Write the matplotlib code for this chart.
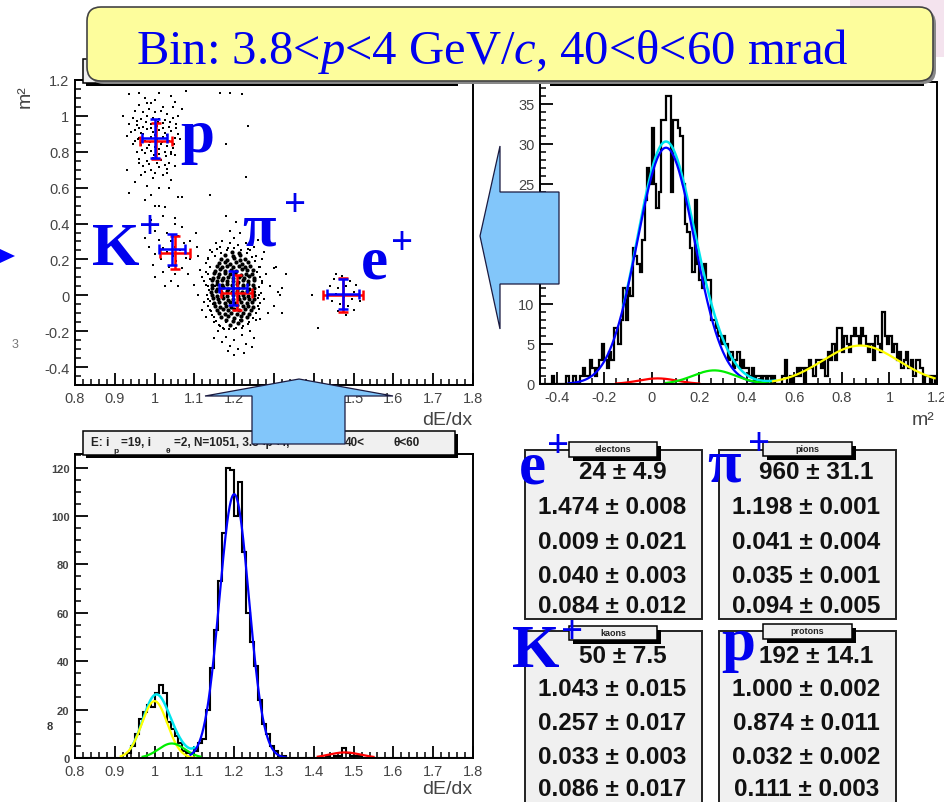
import numpy as np
import matplotlib
matplotlib.use('Agg')
import matplotlib.pyplot as plt
from matplotlib.patches import Polygon, FancyBboxPatch, Rectangle
from matplotlib.ticker import MultipleLocator, FuncFormatter

W, H = 944, 803
plt.rcParams['font.family'] = ['Liberation Sans', 'DejaVu Sans']
plt.rcParams['mathtext.fontset'] = 'custom'
plt.rcParams['mathtext.rm'] = 'Liberation Serif'
plt.rcParams['mathtext.it'] = 'Liberation Serif:italic'
plt.rcParams['mathtext.bf'] = 'Liberation Serif:bold'

# ------------------------------------------------------------------ data
title_text = "Bin: 3.8<$p$<4 GeV/$c$, 40<θ<60 mrad"
species_names = ['electons', 'pions', 'kaons', 'protons']

# fit results table (e, pi, K, p)
yields = [24, 960, 50, 192]
yields_err = [4.9, 31.1, 7.5, 14.1]
dedx_mean = [1.474, 1.198, 1.043, 1.000]
dedx_mean_err = [0.008, 0.001, 0.015, 0.002]
m2_mean = [0.009, 0.041, 0.257, 0.874]
m2_mean_err = [0.021, 0.004, 0.017, 0.011]
dedx_sigma = [0.040, 0.035, 0.033, 0.032]
dedx_sigma_err = [0.003, 0.001, 0.003, 0.002]
m2_sigma = [0.084, 0.094, 0.086, 0.111]
m2_sigma_err = [0.012, 0.005, 0.017, 0.003]

# second (red) set of cluster crosses
red_x = [1.474, 1.206, 1.051, 1.003]
red_y = [0.0, 0.015, 0.238, 0.858]
red_xerr = [0.050, 0.038, 0.037, 0.040]
red_yerr = [0.095, 0.097, 0.094, 0.100]

# scatter points (dE/dx, m^2)
proton_x = [0.935, 0.975, 1.01, 1.04, 0.96, 0.99, 1.02, 1.05, 1.07, 0.95,
            0.97, 0.985, 1.0, 1.015, 1.03, 1.06, 0.945, 0.965, 0.98, 0.995,
            1.01, 1.025, 1.045, 0.935, 0.955, 0.97, 0.99, 1.005, 1.02, 1.035,
            1.055, 0.95, 0.965, 0.98, 0.995, 1.01, 1.025, 1.04, 1.06, 0.93,
            0.96, 0.975, 0.99, 1.005, 1.02, 1.035, 1.05, 0.945, 0.965, 0.985,
            1.0, 1.015, 1.03, 1.045, 0.955, 0.975, 0.99, 1.01, 1.025, 1.04,
            0.96, 0.98, 0.995, 1.015, 1.035, 0.97, 0.99, 1.01, 1.03, 1.05,
            0.965, 0.995, 1.02, 1.04, 0.95, 0.98, 1.01, 1.035, 0.935, 0.99,
            1.06, 0.975, 1.0, 1.025,
            0.962, 0.978, 0.992, 1.008, 1.022, 1.038, 0.958, 0.972, 0.988, 1.002,
            1.018, 1.032, 1.048, 0.968, 0.982, 0.998, 1.012, 1.028, 1.042, 0.95,
            0.94, 1.055, 1.065, 0.985, 1.005, 1.025, 0.975, 1.0, 0.955, 1.045,
            0.98, 1.0, 0.96, 1.03, 0.96, 1.052]
proton_y = [1.12, 1.10, 1.13, 1.11, 1.06, 1.07, 1.05, 1.08, 1.04, 1.03,
            1.02, 1.04, 1.02, 1.03, 1.01, 1.0, 0.99, 0.98, 1.0, 0.99,
            0.985, 0.975, 0.99, 0.955, 0.95, 0.94, 0.955, 0.945, 0.96, 0.94,
            0.955, 0.92, 0.905, 0.925, 0.91, 0.92, 0.905, 0.915, 0.9, 0.89,
            0.875, 0.86, 0.88, 0.865, 0.88, 0.86, 0.875, 0.845, 0.835, 0.84,
            0.825, 0.845, 0.83, 0.82, 0.80, 0.795, 0.805, 0.79, 0.8, 0.785,
            0.76, 0.75, 0.765, 0.755, 0.74, 0.72, 0.70, 0.715, 0.705, 0.72,
            0.67, 0.655, 0.67, 0.64, 0.63, 0.61, 0.6, 0.6, 0.57, 0.56,
            0.55, 0.53, 0.50, 0.49,
            0.93, 0.965, 0.935, 0.965, 0.935, 0.965, 0.87, 0.9, 0.855, 0.895,
            0.855, 0.895, 0.845, 0.81, 0.82, 0.78, 0.815, 0.775, 0.8, 0.86,
            0.91, 0.93, 0.87, 0.73, 0.74, 0.725, 0.685, 0.68, 0.97, 1.05,
            1.07, 1.09, 1.13, 0.68, 0.74, 0.78]
kaon_x = [0.99, 1.02, 1.05, 1.07, 1.0, 1.03, 1.06, 1.01, 1.04, 1.075,
          0.985, 1.02, 1.05, 1.065, 1.03, 1.0, 1.045, 1.08, 1.015, 1.055,
          0.995, 1.035, 1.07, 1.02, 1.05, 1.0, 1.04, 1.06, 1.09, 1.11,
          0.975, 1.085, 1.025]
kaon_y = [0.42, 0.44, 0.40, 0.38, 0.36, 0.35, 0.33, 0.31, 0.30, 0.29,
          0.27, 0.265, 0.27, 0.25, 0.24, 0.23, 0.22, 0.21, 0.20, 0.19,
          0.17, 0.16, 0.15, 0.13, 0.12, 0.10, 0.08, 0.05, 0.30, 0.22,
          0.32, 0.12, 0.05]
electron_x = [1.45, 1.47, 1.49, 1.505, 1.44, 1.46, 1.48, 1.5, 1.455, 1.475,
              1.495, 1.445, 1.465, 1.485, 1.46, 1.48, 1.5, 1.515, 1.435, 1.455]
electron_y = [0.09, 0.11, 0.08, 0.06, 0.05, 0.04, 0.05, 0.02, 0.01, -0.01,
              -0.02, -0.03, -0.05, -0.06, -0.09, -0.11, -0.08, -0.03, 0.0, 0.12]
pion_halo_x = [1.17, 1.2, 1.23, 1.19, 1.205, 1.18, 1.165, 1.25, 1.14, 1.26, 1.215, 1.235, 1.155, 1.185,
               1.13, 1.12, 1.135, 1.11, 1.125, 1.14, 1.13, 1.115, 1.1, 1.135, 1.13, 1.125, 1.135, 1.12, 1.145,
               1.27, 1.28, 1.29, 1.275, 1.3, 1.285, 1.31, 1.265, 1.32, 1.265, 1.3, 1.27, 1.262, 1.26, 1.255, 1.275,
               1.16, 1.18, 1.2, 1.22, 1.24, 1.19, 1.21, 1.17, 1.23, 1.2, 1.225, 1.15, 1.25, 1.185, 1.245, 1.165,
               1.235, 1.255, 1.15, 1.2, 1.22, 1.175]
pion_halo_y = [0.30, 0.32, 0.29, 0.36, 0.41, 0.44, 0.27, 0.27, 0.25, 0.31, 0.345, 0.26, 0.29, 0.265,
               0.18, 0.1, 0.05, 0.0, -0.04, -0.08, -0.12, 0.14, 0.06, 0.21, 0.13, 0.08, -0.02, -0.08, -0.11,
               0.2, 0.12, 0.05, -0.02, -0.06, -0.1, 0.02, 0.16, 0.04, -0.13, 0.15, 0.08, 0.0, -0.06, 0.22, 0.24,
               -0.2, -0.23, -0.25, -0.22, -0.2, -0.28, -0.3, -0.26, -0.27, -0.33, -0.32, -0.24, -0.24, -0.31, -0.29, -0.17,
               -0.16, -0.14, -0.15, -0.19, -0.18, -0.19]
pion_mid_x = [1.135, 1.14, 1.133, 1.138, 1.128, 1.136, 1.131, 1.139, 1.134, 1.142, 1.148, 1.155,
              1.163, 1.172, 1.186, 1.205, 1.222, 1.238, 1.247, 1.256, 1.262, 1.266, 1.261, 1.268,
              1.263, 1.27, 1.264, 1.258, 1.262, 1.252, 1.244, 1.232, 1.218, 1.2, 1.183, 1.166,
              1.152, 1.145, 1.158, 1.21, 1.19, 1.24, 1.152, 1.235, 1.18, 1.215, 1.147, 1.253]
pion_mid_y = [0.20, 0.16, 0.12, 0.09, 0.06, 0.03, 0.0, -0.03, -0.06, -0.09, -0.12, -0.145,
              -0.165, -0.18, -0.19, -0.185, -0.17, -0.15, -0.125, -0.1, -0.075, -0.045, -0.015, 0.015,
              0.045, 0.07, 0.1, 0.13, 0.16, 0.19, 0.215, 0.235, 0.255, 0.265, 0.25, 0.235,
              0.22, 0.24, 0.26, 0.28, 0.29, 0.25, 0.05, 0.11, -0.15, -0.14, -0.05, 0.02]
pion_core_x = [1.195, 1.212,
               1.178, 1.196, 1.214,
               1.168, 1.183, 1.199, 1.214, 1.228,
               1.162, 1.176, 1.19, 1.205, 1.219, 1.235,
               1.156, 1.169, 1.183, 1.197, 1.211, 1.226, 1.24,
               1.152, 1.165, 1.178, 1.192, 1.205, 1.219, 1.233, 1.247,
               1.149, 1.163, 1.176, 1.19, 1.203, 1.216, 1.23, 1.245,
               1.146, 1.159, 1.172, 1.185, 1.198, 1.211, 1.224, 1.237, 1.251,
               1.144, 1.157, 1.17, 1.183, 1.196, 1.209, 1.222, 1.235, 1.249,
               1.143, 1.156, 1.169, 1.182, 1.195, 1.208, 1.221, 1.234, 1.248,
               1.145, 1.158, 1.171, 1.184, 1.197, 1.21, 1.223, 1.236, 1.25,
               1.142, 1.155, 1.168, 1.181, 1.194, 1.207, 1.22, 1.233, 1.247,
               1.144, 1.157, 1.17, 1.183, 1.196, 1.209, 1.222, 1.235, 1.249,
               1.146, 1.159, 1.172, 1.185, 1.198, 1.211, 1.224, 1.237, 1.25,
               1.149, 1.162, 1.176, 1.19, 1.203, 1.217, 1.231, 1.245,
               1.151, 1.165, 1.179, 1.193, 1.207, 1.221, 1.235, 1.248,
               1.157, 1.171, 1.185, 1.199, 1.213, 1.227, 1.241,
               1.162, 1.177, 1.192, 1.207, 1.222, 1.236,
               1.168, 1.184, 1.2, 1.216, 1.231,
               1.18, 1.198, 1.216,
               1.19, 1.21]
pion_core_y = [0.243, 0.236,
               0.224, 0.218, 0.226,
               0.203, 0.197, 0.206, 0.198, 0.204,
               0.178, 0.186, 0.176, 0.184, 0.177, 0.183,
               0.163, 0.156, 0.165, 0.158, 0.164, 0.155, 0.162,
               0.138, 0.145, 0.137, 0.143, 0.136, 0.144, 0.139, 0.142,
               0.123, 0.116, 0.124, 0.117, 0.122, 0.115, 0.121, 0.118,
               0.098, 0.104, 0.097, 0.103, 0.096, 0.102, 0.099, 0.105, 0.097,
               0.083, 0.077, 0.084, 0.078, 0.082, 0.076, 0.083, 0.079, 0.084,
               0.057, 0.063, 0.058, 0.064, 0.056, 0.062, 0.057, 0.063, 0.058,
               0.043, 0.037, 0.044, 0.036, 0.042, 0.038, 0.045, 0.037, 0.041,
               0.018, 0.024, 0.017, 0.023, 0.016, 0.022, 0.018, 0.024, 0.017,
               0.003, -0.004, 0.002, -0.003, 0.004, -0.002, 0.003, -0.004, 0.002,
               -0.017, -0.023, -0.016, -0.024, -0.018, -0.022, -0.016, -0.023, -0.019,
               -0.043, -0.036, -0.042, -0.037, -0.044, -0.038, -0.043, -0.037,
               -0.057, -0.063, -0.058, -0.064, -0.056, -0.062, -0.058, -0.063,
               -0.083, -0.077, -0.084, -0.078, -0.083, -0.077, -0.082,
               -0.097, -0.103, -0.098, -0.104, -0.097, -0.102,
               -0.123, -0.117, -0.124, -0.118, -0.122,
               -0.138, -0.144, -0.137,
               -0.163, -0.157]
misc_x = [1.235, 1.18, 1.23, 1.14, 1.07, 1.19, 1.22, 1.165, 1.08, 1.05, 1.01,
          1.106, 1.09, 1.304, 1.316, 1.32, 1.395, 1.411, 1.105, 1.33, 0.92, 0.93]
misc_y = [0.944, 0.844, 0.66, 0.56, 0.55, 1.13, 1.12, 1.13, 1.14, 0.43, 0.50,
          0.27, 0.2, 0.16, 0.0, -0.1, 0.0, -0.18, 0.35, 0.12, 1.0, 0.7]

# m^2 projection histogram: bins of 0.01 starting at -0.47
m2_lo, m2_bw = -0.47, 0.01
m2_counts = [0, 0, 0, 0, 0, 1, 0,
             0, 0, 0, 0, 1, 0, 0, 1, 0, 0,
             1, 2, 1, 1, 3, 2, 1, 2, 3, 5,
             3, 2, 4, 3, 7, 7, 5, 8, 12, 8,
             12, 11, 17, 16, 15, 14, 18, 23, 27, 25,
             32, 25, 22, 24, 33, 33, 36, 36, 24, 33,
             33, 32, 31, 25, 20, 19, 17, 14, 23, 15,
             13, 12, 15, 13, 13, 8, 8, 7, 6, 5,
             6, 5, 3, 4, 2, 3, 4, 2, 3, 2,
             2, 1, 2, 0, 1, 1, 0, 1, 0, 1,
             0, 1, 0, 0, 0, 1, 3, 0, 1, 0,
             1, 2, 1, 2, 0, 2, 3, 2, 1, 3,
             3, 2, 3, 1, 4, 3, 5, 3, 7, 7,
             4, 6, 5, 4, 6, 7, 6, 5, 7, 6,
             5, 4, 5, 3, 6, 5, 4, 9, 6, 5,
             6, 4, 5, 3, 4, 2, 3, 4, 2, 3,
             1, 3, 3, 2, 0, 1, 1, 0, 1, 0]
# Gaussian fit components on m^2 (e, pi, K, p)
m2fit_amp = [0.7, 29.5, 1.7, 4.8]
m2fit_mean = [0.025, 0.06, 0.263, 0.878]
m2fit_sigma = [0.08, 0.12, 0.09, 0.16]
m2fit_lo = [-0.15, -0.35, 0.06, 0.51]
m2fit_hi = [0.20, 0.43, 0.50, 1.19]
m2total_range = [-0.12, 0.52]

# dE/dx projection histogram: bins of 0.01 from 0.8
dedx_lo, dedx_bw = 0.8, 0.01
dedx_counts = [0, 0, 0, 0, 0, 0, 0, 0, 0, 0,
               0, 0, 0, 2, 5, 10, 16, 19, 22, 21,
               27, 30, 27, 15, 12, 9, 6, 3, 2, 2,
               3, 6, 8, 20, 37, 53, 73, 93, 120, 119,
               100, 114, 85, 60, 48, 38, 24, 14, 10, 5,
               3, 1, 1, 0, 0, 0, 0, 0, 0, 0,
               0, 0, 0, 1, 0, 1, 1, 4, 2, 1,
               1, 1, 0, 0, 0, 0, 0, 0, 0, 0,
               0, 0, 0, 0, 0, 0, 0, 0, 0, 0,
               0, 0, 0, 0, 0, 0, 0, 0, 0, 0]
dedxfit_amp = [2.3, 109.0, 6.0, 23.5]
dedxfit_mean = [1.478, 1.200, 1.043, 1.000]
dedxfit_sigma = [0.040, 0.037, 0.033, 0.032]
dedxfit_lo = [1.41, 1.09, 0.97, 0.915]
dedxfit_hi = [1.55, 1.33, 1.115, 1.10]
dedxtotal_range = [0.94, 1.10]

fit_colors = ['#ff0000', '#0000ff', '#00ee00', '#ffff00']
BLUE = '#0000ee'

# ------------------------------------------------------------------ figure
fig = plt.figure(figsize=(W / 100, H / 100), dpi=100)


def px_axes(x0, y0, x1, y1):
    return fig.add_axes([x0 / W, 1 - y1 / H, (x1 - x0) / W, (y1 - y0) / H])


fmt = FuncFormatter(lambda v, p: ('%g' % round(v, 6)))


def root_style(ax, xmaj, xmin, ymaj, ymin, ylabsize=10.5, ybold=False):
    for s in ax.spines.values():
        s.set_linewidth(1.4)
    ax.xaxis.set_major_locator(MultipleLocator(xmaj))
    ax.xaxis.set_minor_locator(MultipleLocator(xmin))
    ax.yaxis.set_major_locator(MultipleLocator(ymaj))
    ax.yaxis.set_minor_locator(MultipleLocator(ymin))
    ax.xaxis.set_major_formatter(fmt)
    ax.yaxis.set_major_formatter(fmt)
    ax.tick_params(which='major', direction='in', length=9, width=1.3,
                   top=False, right=False, labelsize=10.5, labelcolor='#444', pad=4)
    ax.tick_params(which='minor', direction='in', length=4.5, width=1.1,
                   top=False, right=False)
    ax.tick_params(axis='y', labelsize=ylabsize)
    if ybold:
        for t in ax.get_yticklabels():
            t.set_fontweight('bold')


def gauss(x, a, m, s):
    return a * np.exp(-0.5 * ((x - m) / s) ** 2)


# --- scatter dE/dx vs m^2
axA = px_axes(75, 81, 473, 386)
axA.set_xlim(0.8, 1.8)
axA.set_ylim(-0.5, 1.2)
mk = dict(marker='s', linestyle='none', color='black', mew=0)
axA.plot(proton_x, proton_y, ms=1.5, **mk)
axA.plot(kaon_x, kaon_y, ms=1.5, **mk)
axA.plot(electron_x, electron_y, ms=1.5, **mk)
axA.plot(pion_halo_x, pion_halo_y, ms=1.5, **mk)
axA.plot(pion_mid_x, pion_mid_y, ms=1.8, **mk)
axA.plot(misc_x, misc_y, ms=1.5, **mk)
axA.plot(pion_core_x, pion_core_y, marker='o', linestyle='none', color='black', mew=0, ms=3.0)
axA.errorbar(red_x, red_y, xerr=red_xerr, yerr=red_yerr, fmt='none',
             ecolor='#ff0000', elinewidth=1.8, capsize=3.5, capthick=1.8, zorder=5)
axA.errorbar(dedx_mean, m2_mean, xerr=dedx_sigma, yerr=m2_sigma, fmt='none',
             ecolor='#0000ff', elinewidth=1.8, capsize=3.5, capthick=1.8, zorder=6)
root_style(axA, 0.1, 0.02, 0.2, 0.05)

# --- m^2 histogram
axB = px_axes(540, 83, 937, 385)
edges_m2 = m2_lo + m2_bw * np.arange(len(m2_counts) + 1)
axB.stairs(m2_counts, edges_m2, color='black', lw=1.6)
xt = np.linspace(m2total_range[0], m2total_range[1], 300)
axB.plot(xt, sum(gauss(xt, a, m, s) for a, m, s in zip(m2fit_amp, m2fit_mean, m2fit_sigma)),
         color='#00e5ee', lw=1.8)
for i in [1, 0, 2, 3]:
    xx = np.linspace(m2fit_lo[i], m2fit_hi[i], 300)
    axB.plot(xx, gauss(xx, m2fit_amp[i], m2fit_mean[i], m2fit_sigma[i]),
             color=fit_colors[i], lw=1.6)
axB.set_xlim(-0.47, 1.2)
axB.set_ylim(0, 37.7)
root_style(axB, 0.2, 0.05, 5, 1)

# --- dE/dx histogram
axC = px_axes(75, 455, 473, 759)
edges_de = dedx_lo + dedx_bw * np.arange(len(dedx_counts) + 1)
axC.stairs(dedx_counts, edges_de, color='black', lw=1.5)
xt = np.linspace(dedxtotal_range[0], dedxtotal_range[1], 300)
axC.plot(xt, sum(gauss(xt, a, m, s) for a, m, s in zip(dedxfit_amp, dedxfit_mean, dedxfit_sigma)),
         color='#00e5ee', lw=1.8)
for i in [3, 2, 1, 0]:
    xx = np.linspace(dedxfit_lo[i], dedxfit_hi[i], 300)
    axC.plot(xx, gauss(xx, dedxfit_amp[i], dedxfit_mean[i], dedxfit_sigma[i]),
             color=fit_colors[i], lw=1.6)
axC.set_xlim(0.8, 1.8)
axC.set_ylim(0, 125.6)
root_style(axC, 0.1, 0.02, 20, 5, ylabsize=8, ybold=True)

# ------------------------------------------------------------------ overlay (pixel coordinates)
ov = fig.add_axes([0, 0, 1, 1])
ov.set_xlim(0, W)
ov.set_ylim(H, 0)
ov.axis('off')
ov.set_zorder(10)

lab = dict(color='#444', fontsize=14)
ov.text(472, 421, 'dE/dx', ha='right', va='center', **lab)
ov.text(472, 790, 'dE/dx', ha='right', va='center', **lab)
ov.text(934, 421, 'm²', ha='right', va='center', **lab)
ov.text(25, 97, 'm²', ha='center', va='center', rotation=90, **lab)
ov.text(50, 727, '8', ha='center', va='center', fontsize=8, fontweight='bold', color='#333')
ov.text(15, 345, '3', ha='center', va='center', fontsize=9, color='#777')

# pink background corner
ov.add_patch(Rectangle((850, 0), 94, 58, facecolor='#f4e3ee', edgecolor='none', zorder=0))


def pave(x0, y0, x1, y1, z=1, sh=3):
    ov.add_patch(Rectangle((x0 + sh, y0 + sh), x1 - x0, y1 - y0, facecolor='black',
                           edgecolor='none', zorder=z))
    ov.add_patch(Rectangle((x0, y0), x1 - x0, y1 - y0, facecolor='#f0f0f0',
                           edgecolor='black', lw=1.1, zorder=z + 0.1))


# title paves of the three plots
pave(83, 60, 455, 84)
pave(547, 60, 921, 84)
pave(83, 432, 455, 456)
tb = dict(fontsize=8.5, fontweight='bold', color='#222', va='center', ha='left', zorder=2)
ov.text(91, 443, 'E: i', **tb)
ov.text(121, 443, '=19, i', **tb)
ov.text(174, 443, '=2, N=1051, 3.8<p<4,', **tb)
ov.text(345, 443, '40<', **tb)
ov.text(394, 443, 'θ<60', **tb)
ov.text(113, 452, 'p', fontsize=6, fontweight='bold', color='#222', va='center', zorder=2)
ov.text(166, 452, 'θ', fontsize=6, fontweight='bold', color='#222', va='center', zorder=2)

# parameter boxes
box_rect = [(525, 451, 702, 620), (719, 451, 896, 620), (525, 632, 702, 812), (719, 632, 896, 812)]
label_rect = [(569, 443, 657, 458), (763, 443, 852, 457), (569, 627, 657, 641), (763, 625, 852, 640)]
row_y = [[473, 508, 543, 577, 607], [473, 508, 543, 577, 607],
         [657, 690, 724, 758, 790], [657, 690, 724, 758, 790]]
for i in range(4):
    x0, y0, x1, y1 = box_rect[i]
    ov.add_patch(Rectangle((x0, y0), x1 - x0, y1 - y0, facecolor='#f0f0f0',
                           edgecolor='#222', lw=1.4, zorder=1))
    lx0, ly0, lx1, ly1 = label_rect[i]
    pave(lx0, ly0, lx1, ly1, z=2, sh=4)
    ov.text((lx0 + lx1) / 2, (ly0 + ly1) / 2 - 0.5, species_names[i], ha='center', va='center',
            fontsize=6.5, fontweight='bold', color='#222', zorder=3)
    rows = ['%d ± %.1f' % (yields[i], yields_err[i]),
            '%.3f ± %.3f' % (dedx_mean[i], dedx_mean_err[i]),
            '%.3f ± %.3f' % (m2_mean[i], m2_mean_err[i]),
            '%.3f ± %.3f' % (dedx_sigma[i], dedx_sigma_err[i]),
            '%.3f ± %.3f' % (m2_sigma[i], m2_sigma_err[i])]
    for j, r in enumerate(rows):
        ov.text((x0 + x1) / 2 + (9 if j == 0 else -1), row_y[i][j], r, ha='center', va='center',
                fontsize=17.5, fontweight='bold', color='#111', zorder=3)

# big particle symbols
big = dict(fontfamily='Liberation Serif', fontweight='bold', color=BLUE, fontsize=44,
           ha='left', va='baseline', zorder=5)
plus = dict(fontfamily='Liberation Serif', fontweight='bold', color=BLUE, fontsize=28,
            ha='center', va='center', zorder=5)
sym_pos = {'p': (180, 152, None), 'K': (92, 265, (150, 229)), 'π': (242, 246, (295, 206)),
           'e': (361, 279, (402, 245))}
for s, (x, y, pl) in sym_pos.items():
    ov.text(x, y, s, **big)
    if pl:
        ov.text(pl[0], pl[1], '+', **plus)
tab_pos = {'e': (519, 484, (558, 448)), 'π': (707, 482, (759, 446)),
           'K': (512, 667, (572, 634)), 'p': (721, 660, None)}
for s, (x, y, pl) in tab_pos.items():
    ov.text(x, y, s, **big)
    if pl:
        ov.text(pl[0], pl[1], '+', **plus)

# arrows
arrow_kw = dict(facecolor='#82c6fa', edgecolor='#1a1a40', lw=0.9, zorder=6)
ov.add_patch(Polygon([(480, 237), (500, 147), (500, 193), (559, 193), (559, 285),
                      (500, 285), (500, 330)], closed=True, **arrow_kw))
ov.add_patch(Polygon([(299, 380), (393, 397), (345, 397), (345, 445), (252, 445),
                      (252, 397), (205, 397)], closed=True, **arrow_kw))
ov.add_patch(Polygon([(0, 250), (15, 257), (0, 264)], closed=True,
                     facecolor='#0000ff', edgecolor='none', zorder=6))

# yellow title box
ov.add_patch(FancyBboxPatch((90, 11), 846, 74, boxstyle='round,pad=0,rounding_size=14',
                            facecolor='#888', edgecolor='none', zorder=7))
ov.add_patch(FancyBboxPatch((87, 8), 846, 74, boxstyle='round,pad=0,rounding_size=14',
                            facecolor='#fdfd9c', edgecolor='#444', lw=1.2, zorder=8))
ov.text(492, 52, title_text, fontfamily='Liberation Serif', fontsize=35, color=BLUE,
        ha='center', va='center', zorder=9)

fig.savefig('out.png', dpi=100)
